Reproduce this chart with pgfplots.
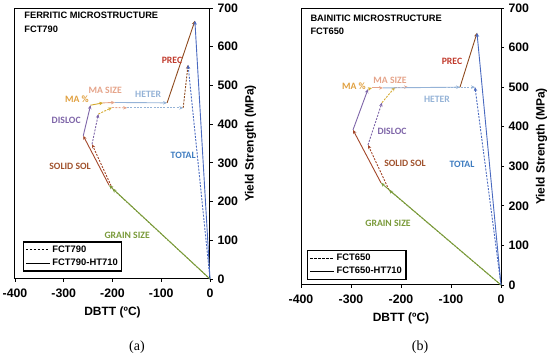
\documentclass[border=0pt]{standalone}
\usepackage{fontspec}
\setmainfont{Liberation Sans}
\newfontfamily\serifcap{Liberation Serif}
\newfontfamily\calib{Carlito}
\usepackage{pgfplots}
\pgfplotsset{compat=1.18}
\usetikzlibrary{arrows.meta}
\definecolor{cGS}{HTML}{7A9A3A}
\definecolor{cSS}{HTML}{A3472A}
\definecolor{cSSl}{HTML}{A0522D}
\definecolor{cDIS}{HTML}{7E65A8}
\definecolor{cMAP}{HTML}{D4A92E}
\definecolor{cMAPl}{HTML}{E0A040}
\definecolor{cMAS}{HTML}{E5A48A}
\definecolor{cHET}{HTML}{95B3D7}
\definecolor{cPRE}{HTML}{8E4A1E}
\definecolor{cPREl}{HTML}{C0392B}
\definecolor{cTOT}{HTML}{4A6AC0}
\definecolor{cTOTl}{HTML}{3E7CC0}
\tikzset{
  vec/.style={line width=0.9pt,-{Stealth[length=4pt,width=3.5pt]}},
  dvec/.style={vec,dash pattern=on 2pt off 1.3pt},
  lab/.style={font=\calib\fontsize{9.7}{10}\selectfont\bfseries},
  ttl/.style={font=\fontsize{9.3}{10}\selectfont\bfseries,anchor=west},
}
\pgfplotsset{
  panel/.style={
    scale only axis,
    xmin=-400,xmax=0,ymin=0,ymax=700,
    xtick={-400,-300,-200,-100,0},
    ytick={0,100,...,700},
    yticklabel pos=right,
    tick align=outside,
    xtick pos=bottom, ytick pos=right,
    major tick length=3pt,
    axis line style={line width=1pt},
    every tick/.style={black,line width=0.8pt},
    /pgf/number format/assume math mode=true,
    ticklabel style={font=\fontsize{12.3}{13}\selectfont\bfseries},
    xticklabel style={yshift=-3pt},
    yticklabel style={xshift=1pt},
    xlabel={DBTT (ºC)},
    ylabel={Yield Strength (MPa)},
    label style={font=\fontsize{12}{13}\selectfont\bfseries},
    xlabel style={yshift=-3pt},
    legend cell align=left,
    legend style={draw=black,line width=1.3pt,font=\fontsize{9.4}{10}\selectfont\bfseries,
      anchor=south west,inner sep=2pt,row sep=1pt},
    legend image code/.code={\draw[#1,line width=1pt] (0pt,0pt) -- (24pt,0pt);},
    clip=false,
  }
}
\begin{document}
\begin{tikzpicture}
\useasboundingbox (0,0) rectangle (550pt,-358pt);
% ---------------- panel (a)
\begin{axis}[panel, at={(15pt,-279pt)}, anchor=south west, width=195pt, height=271pt,
  legend style={at={(0.04,0.027)}}]
\addlegendimage{black,dash pattern=on 2.5pt off 1.5pt}
\addlegendentry{FCT790}
\addlegendimage{black}
\addlegendentry{FCT790-HT710}
% dashed (FCT790)
\addplot[dvec,cGS] coordinates {(0,0) (-200,233)};
\addplot[dvec,cSS] coordinates {(-200,233) (-242,348)};
\addplot[dvec,cDIS] coordinates {(-242,348) (-229,426)};
\addplot[dvec,cMAP] coordinates {(-229,426) (-201,443)};
\addplot[dvec,cMAS] coordinates {(-201,443) (-170,442)};
\addplot[dvec,cHET] coordinates {(-170,442) (-55,442)};
\addplot[dvec,cPRE] coordinates {(-55,442) (-45,553)};
\addplot[dvec,cTOT] coordinates {(0,0) (-45,553)};
% solid (FCT790-HT710)
\addplot[vec,cGS] coordinates {(0,0) (-207,242)};
\addplot[vec,cSS] coordinates {(-207,242) (-260,370)};
\addplot[vec,cDIS] coordinates {(-260,370) (-245,449)};
\addplot[vec,cMAP] coordinates {(-245,449) (-219,455)};
\addplot[vec,cMAS] coordinates {(-219,455) (-195,456)};
\addplot[vec,cHET] coordinates {(-195,456) (-88,455)};
\addplot[vec,cPRE] coordinates {(-88,455) (-31,667)};
\addplot[vec,cTOT] coordinates {(0,0) (-31,667)};
% labels
\node[ttl] at (axis cs:-388,682) {FERRITIC MICROSTRUCTURE};
\node[ttl] at (axis cs:-388,646) {FCT790};
\node[lab,text=cPREl] at (axis cs:-78,566) {PREC};
\node[lab,text=cMAS] at (axis cs:-215,488) {MA SIZE};
\node[lab,text=cHET] at (axis cs:-127,478) {HETER};
\node[lab,text=cMAPl] at (axis cs:-273,465) {MA \%};
\node[lab,text=cDIS] at (axis cs:-295,411) {DISLOC};
\node[lab,text=cTOTl] at (axis cs:-55,320) {TOTAL};
\node[lab,text=cSSl] at (axis cs:-287,292) {SOLID SOL};
\node[lab,text=cGS] at (axis cs:-170,114) {GRAIN SIZE};
\end{axis}
% ---------------- panel (b)
\begin{axis}[panel, at={(301pt,-285pt)}, anchor=south west, width=200pt, height=277pt,
  legend style={at={(0.03,0.018)}}]
\addlegendimage{black,dash pattern=on 2.5pt off 1.5pt}
\addlegendentry{FCT650}
\addlegendimage{black}
\addlegendentry{FCT650-HT710}
% dashed (FCT650)
\addplot[dvec,cGS] coordinates {(0,0) (-224,240)};
\addplot[dvec,cSS] coordinates {(-224,240) (-266,354)};
\addplot[dvec,cDIS] coordinates {(-266,354) (-238,461)};
\addplot[dvec,cMAP] coordinates {(-238,461) (-212,500)};
\addplot[dvec,cMAS] coordinates {(-212,500) (-186,500)};
\addplot[dvec,cHET] coordinates {(-186,500) (-52,500)};
\addplot[dvec,cTOT] coordinates {(0,0) (-52,500)};
% solid (FCT650-HT710)
\addplot[vec,cGS] coordinates {(0,0) (-240,258)};
\addplot[vec,cSS] coordinates {(-240,258) (-296,392)};
\addplot[vec,cDIS] coordinates {(-296,392) (-266,495)};
\addplot[vec,cMAP] coordinates {(-266,495) (-258,498)};
\addplot[vec,cMAS] coordinates {(-258,498) (-236,498)};
\addplot[vec,cHET] coordinates {(-236,498) (-82,500)};
\addplot[vec,cPRE] coordinates {(-82,500) (-48,637)};
\addplot[vec,cTOT] coordinates {(0,0) (-48,637)};
% labels
\node[ttl] at (axis cs:-388,675) {BAINITIC MICROSTRUCTURE};
\node[ttl] at (axis cs:-388,642) {FCT650};
\node[lab,text=cPREl] at (axis cs:-98,566) {PREC};
\node[lab,text=cMAPl] at (axis cs:-294,503) {MA \%};
\node[lab,text=cMAS] at (axis cs:-222,518) {MA SIZE};
\node[lab,text=cHET] at (axis cs:-128,470) {HETER};
\node[lab,text=cDIS] at (axis cs:-218,389) {DISLOC};
\node[lab,text=cSSl] at (axis cs:-192,308) {SOLID SOL};
\node[lab,text=cTOTl] at (axis cs:-78,306) {TOTAL};
\node[lab,text=cGS] at (axis cs:-226,157) {GRAIN SIZE};
\end{axis}
\node[font=\serifcap\fontsize{14}{16}\selectfont] at (137pt,-347pt) {(a)};
\node[font=\serifcap\fontsize{14}{16}\selectfont] at (420pt,-347pt) {(b)};
\end{tikzpicture}
\end{document}
